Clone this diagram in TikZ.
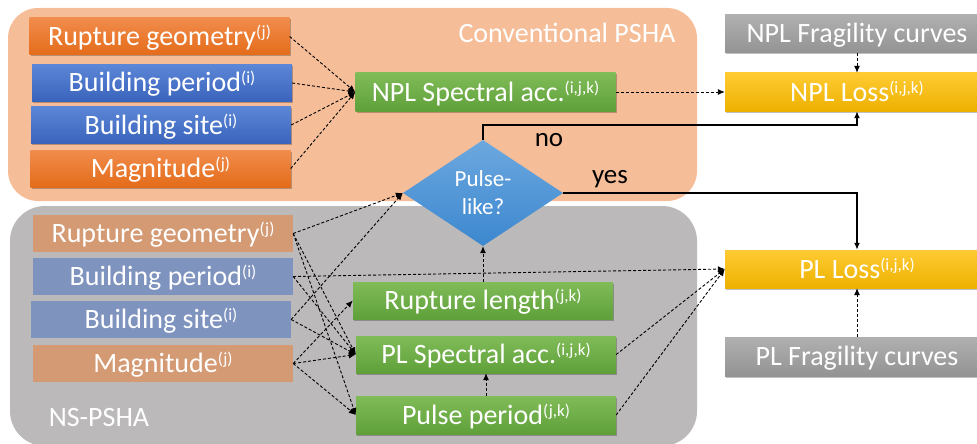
\documentclass[tikz,border=0pt]{standalone}
\usepackage{fontspec}
\setmainfont{Carlito}
\usetikzlibrary{arrows.meta,shapes.geometric,shadows}
\newcommand{\supx}[1]{\raisebox{8pt}{\fontsize{17}{17}\selectfont #1}}
\definecolor{panelA}{HTML}{F5BE99}
\definecolor{panelB}{HTML}{BBB9B9}
\definecolor{orTop}{HTML}{F18C4C}
\definecolor{orBot}{HTML}{E46C1A}
\definecolor{blTop}{HTML}{5C86D6}
\definecolor{blBot}{HTML}{3A64BC}
\definecolor{orMute}{HTML}{D49A73}
\definecolor{blMute}{HTML}{7F93BF}
\definecolor{grTop}{HTML}{80BC58}
\definecolor{grBot}{HTML}{5FA03A}
\definecolor{yeTop}{HTML}{FFCB33}
\definecolor{yeBot}{HTML}{EDB100}
\definecolor{gyTop}{HTML}{B0B0B0}
\definecolor{gyBot}{HTML}{939393}
\definecolor{diTop}{HTML}{6CA8DF}
\definecolor{diBot}{HTML}{3C87CF}
\begin{document}
\begin{tikzpicture}[x=1pt,y=-1pt,
  plainbox/.style={rectangle,minimum width=260pt,minimum height=37pt,inner sep=0pt,
    text=white,font=\fontsize{28}{30}\selectfont,text height=22pt,text depth=4pt},
  box/.style={plainbox,
    drop shadow={shadow xshift=1pt,shadow yshift=-1.5pt,opacity=0.25,fill=black}},
  orangeA/.style={box,top color=orTop,bottom color=orBot},
  blueA/.style={box,top color=blTop,bottom color=blBot},
  orangeB/.style={plainbox,fill=orMute},
  blueB/.style={plainbox,fill=blMute},
  greenb/.style={box,top color=grTop,bottom color=grBot},
  yellowb/.style={box,top color=yeTop,bottom color=yeBot,minimum width=264pt,minimum height=38pt},
  grayb/.style={box,top color=gyTop,bottom color=gyBot,minimum width=264pt,minimum height=38pt},
  decide/.style={diamond,inner sep=0pt,aspect=1.5,minimum width=160pt,minimum height=106pt,
    top color=diTop,bottom color=diBot,text=white,align=center,
    font=\fontsize{23}{28}\selectfont},
  paneltxt/.style={text=white,font=\fontsize{28}{30}\selectfont,inner sep=0pt},
  lbl/.style={text=black,font=\fontsize{27}{29}\selectfont,inner sep=0pt},
  dasharr/.style={draw=black,line width=0.9pt,dash pattern=on 3pt off 2pt,-{Latex[length=7pt,width=6pt]}},
  solidarr/.style={draw=black,line width=1.8pt,-{Latex[length=7pt,width=6pt]}}
]
\useasboundingbox (0,0) rectangle (977,444);
% panels
\fill[panelA,rounded corners=30pt] (8,8) rectangle (697,201);
\fill[panelB,rounded corners=35pt] (10,206) rectangle (697,446);
\node[paneltxt] (conv) at (567,33) {Conventional PSHA};
\node[paneltxt] (nspsha) at (99,418) {NS-PSHA};

% upper inputs
\node[orangeA] (urg) at (159.5,36.5) {Rupture geometry\supx{(j)}};
\node[blueA]   (ubp) at (162,83) {Building period\supx{(i)}};
\node[blueA]   (ubs) at (161,125) {Building site\supx{(i)}};
\node[orangeA] (umag) at (160.5,168.5) {Magnitude\supx{(j)}};
\node[greenb,minimum height=38pt] (nplsa) at (485.5,92) {NPL Spectral acc.\supx{(i,j,k)}};

% lower inputs
\node[orangeB] (lrg) at (163,233.5) {Rupture geometry\supx{(j)}};
\node[blueB]   (lbp) at (163,276.5) {Building period\supx{(i)}};
\node[blueB]   (lbs) at (161,319.5) {Building site\supx{(i)}};
\node[orangeB] (lmag) at (163,363.5) {Magnitude\supx{(j)}};

\node[greenb] (rl)  at (483,300.5) {Rupture length\supx{(j,k)}};
\node[greenb] (plsa) at (486,354.5) {PL Spectral acc.\supx{(i,j,k)}};
\node[greenb,minimum height=38pt] (pp) at (486,415) {Pulse period\supx{(j,k)}};

\node[decide] (diam) at (483,193) {Pulse-\\like?};

% right column
\node[grayb]   (nplfrag) at (857,34) {NPL Fragility curves};
\node[yellowb] (nplloss) at (857,92) {NPL Loss\supx{(i,j,k)}};
\node[yellowb] (plloss)  at (857,269) {PL Loss\supx{(i,j,k)}};
\node[grayb,minimum height=39pt] (plfrag) at (857,356.5) {PL Fragility curves};

% upper connectors
\draw[dasharr] (urg.east) -- (nplsa.west);
\draw[dasharr] (ubp.east) -- (nplsa.west);
\draw[dasharr] (ubs.east) -- (nplsa.west);
\draw[dasharr] (umag.east) -- (nplsa.west);
\draw[dasharr] (nplsa.east) -- (nplloss.west);
\draw[dasharr] (nplfrag.south) -- (nplloss.north);

% decision
\draw[solidarr] (diam.north) -- ++(0,-15) -| (nplloss.south);
\draw[solidarr] (diam.east) -| (plloss.north);
\node[lbl] (no) at (549,140) {no};
\node[lbl] (yes) at (610,179) {yes};

% lower connectors
\draw[dasharr] (lrg.east) -- (diam.west);
\draw[dasharr] (lbs.east) -- (diam.west);
\draw[dasharr] (lrg.east) -- (plsa.west);
\draw[dasharr] (lrg.east) -- (pp.west);
\draw[dasharr] (lbp.east) -- (plsa.west);
\draw[dasharr] (lbs.east) -- (plsa.west);
\draw[dasharr] (lmag.east) -- (rl.west);
\draw[dasharr] (lmag.east) -- (plsa.west);
\draw[dasharr] (lmag.east) -- (pp.west);
\draw[dasharr] (lbp.east) -- (plloss.west);
\draw[dasharr] (plsa.east) -- (plloss.west);
\draw[dasharr] (pp.east) -- (plloss.west);
\draw[dasharr] (rl.north) -- (diam.south);
\draw[dasharr] (pp.north) -- (plsa.south);
\draw[dasharr] (plfrag.north) -- (plloss.south);
\end{tikzpicture}
\end{document}
